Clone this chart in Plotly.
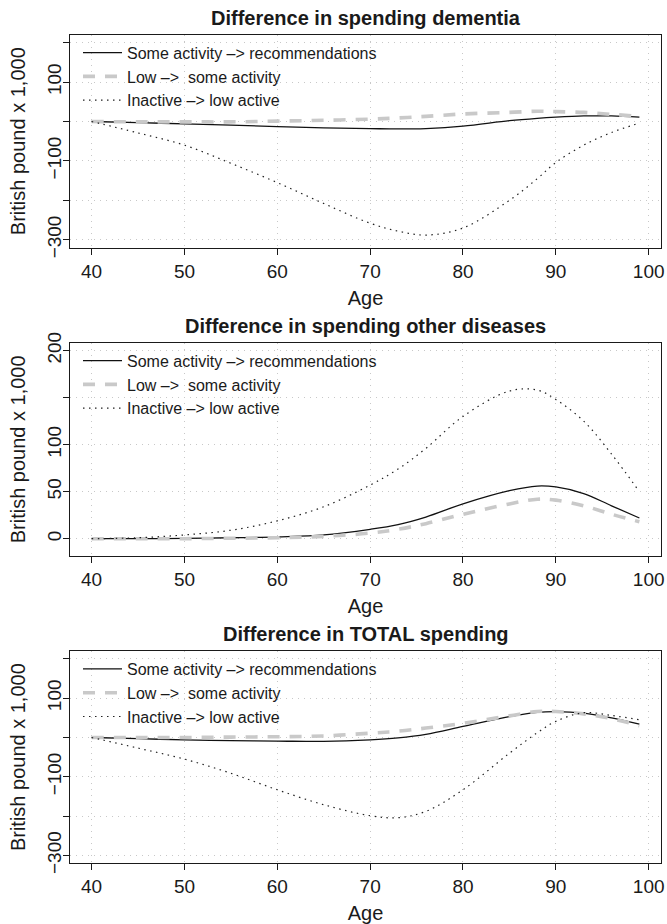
import plotly.graph_objects as go

# ---------------- data ----------------
ages = [40, 45, 50, 55, 60, 65, 70, 73, 76, 80, 85, 88, 90, 93, 96, 99]

series_names = [
    "Some activity \u2013> recommendations",
    "Low \u2013>\u00a0 some activity",
    "Inactive \u2013> low active",
]

panel_titles = [
    "Difference in spending dementia",
    "Difference in spending other diseases",
    "Difference in TOTAL spending",
]

dementia_some_to_rec = [0, -3, -6, -9, -13, -16, -18, -19, -18, -12, 2, 8, 11, 14, 14, 11]
dementia_low_to_some = [0, -1, -1, -1, 1, 3, 6, 9, 13, 19, 23, 26, 25, 23, 18, 13]
dementia_inactive_to_low = [0, -29, -60, -106, -155, -208, -258, -278, -288, -270, -200, -145, -104, -60, -28, -4]

other_some_to_rec = [0, 0, 0.3, 1, 2, 4, 10, 15, 23, 37, 51, 56, 55, 48, 35, 22]
other_low_to_some = [0, 0, 0, 0.5, 1, 2.5, 6, 10, 16, 26, 37, 42, 41, 35, 26, 18]
other_inactive_to_low = [0, 1, 4, 9, 19, 34, 57, 74, 96, 130, 157, 158, 148, 125, 90, 50]

total_some_to_rec = [0, -3, -6, -8, -9, -10, -6, -1, 8, 28, 53, 64, 66, 62, 50, 34]
total_low_to_some = [0, 0, 0, 1, 2, 4, 11, 16, 24, 36, 55, 66, 66, 60, 48, 30]
total_inactive_to_low = [0, -27, -55, -91, -133, -171, -199, -204, -188, -133, -40, 12, 41, 63, 56, 45]

x_tick_vals = [40, 50, 60, 70, 80, 90, 100]
x_tick_text = ["40", "50", "60", "70", "80", "90", "100"]

y_tick_vals_a = [-300, -200, -100, 0, 100, 200]
y_tick_text_a = ["\u2212300", "", "\u2212100", "", "100", ""]
y_tick_vals_b = [0, 50, 100, 150, 200]
y_tick_text_b = ["0", "50", "100", "", "200"]

panel_data = [
    (dementia_some_to_rec, dementia_low_to_some, dementia_inactive_to_low),
    (other_some_to_rec, other_low_to_some, other_inactive_to_low),
    (total_some_to_rec, total_low_to_some, total_inactive_to_low),
]
panel_yticks = [
    (y_tick_vals_a, y_tick_text_a),
    (y_tick_vals_b, y_tick_text_b),
    (y_tick_vals_a, y_tick_text_a),
]
panel_yranges = [[-320, 220], [-18.4, 208.4], [-320, 220]]

# ---------------- layout geometry (page pixels) ----------------
W, H = 667, 924
PLOT_L, PLOT_R = 69.7, 661.3
PANELS = [(34.7, 247.7), (342.7, 556.0), (651.0, 863.3)]
TITLE_Y = [18, 326, 634]
LEGEND_X = 78

FONT = "Liberation Sans, Arial, Helvetica, sans-serif"
INK = "#1a1a1a"

line_styles = [
    dict(color="#111111", width=1.3, dash="solid"),
    dict(color="#c9c9c9", width=3.6, dash="12px,10px"),
    dict(color="#222222", width=1.2, dash="1.5px,4.5px"),
]

fig = go.Figure()

layout = dict(
    width=W, height=H,
    margin=dict(l=0, r=0, t=0, b=0, autoexpand=False),
    paper_bgcolor="white", plot_bgcolor="white",
    font=dict(family=FONT, color=INK, size=19),
    showlegend=True,
    annotations=[],
)

for i in range(3):
    n = "" if i == 0 else str(i + 1)
    top, bot = PANELS[i]
    ydom = [1 - bot / H, 1 - top / H]
    xdom = [PLOT_L / W, PLOT_R / W]

    for j in range(3):
        fig.add_trace(go.Scatter(
            x=ages, y=panel_data[i][j],
            mode="lines", line=dict(shape="spline", smoothing=1.0, **line_styles[j]),
            name=series_names[j],
            xaxis="x" + n, yaxis="y" + n,
            legend="legend" + n,
            hoverinfo="x+y",
        ))

    axis_common = dict(
        automargin=False,
        showline=True, linecolor=INK, linewidth=1.3, mirror=True,
        ticks="outside", ticklen=6, tickwidth=1.2, tickcolor=INK,
        showgrid=True, gridcolor="#c8c8c8", gridwidth=1, griddash="1px,5px",
        zeroline=False, ticklabeloverflow="allow",
        tickfont=dict(family=FONT, size=19, color=INK),
    )
    layout["xaxis" + n] = dict(
        domain=xdom, anchor="y" + n, range=[37.64, 101.36],
        tickmode="array", tickvals=x_tick_vals, ticktext=x_tick_text,
        title=dict(text="Age", font=dict(family=FONT, size=20, color=INK), standoff=10),
        **axis_common,
    )
    layout["yaxis" + n] = dict(
        domain=ydom, anchor="x" + n, range=panel_yranges[i],
        tickmode="array", tickvals=panel_yticks[i][0], ticktext=panel_yticks[i][1],
        tickangle=-90, ticklabelstandoff=-6,
        title=dict(text="British pound x 1,000", font=dict(family=FONT, size=20, color=INK), standoff=12),
        **axis_common,
    )
    layout["legend" + n] = dict(
        x=LEGEND_X / W, y=ydom[1] - 1 / H, xanchor="left", yanchor="top",
        xref="paper", yref="paper",
        bgcolor="rgba(0,0,0,0)", borderwidth=0,
        font=dict(family=FONT, size=16, color=INK),
        itemwidth=39, traceorder="normal",
    )
    layout["annotations"].append(dict(
        text="<b>" + panel_titles[i] + "</b>",
        x=(PLOT_L + PLOT_R) / 2 / W, y=1 - TITLE_Y[i] / H,
        xref="paper", yref="paper", xanchor="center", yanchor="middle",
        showarrow=False, font=dict(family=FONT, size=20, color=INK),
    ))

fig.update_layout(**layout)
# let the figure fill the window exactly (remove the default page margin)
fig.write_html(
    "out.html",
    config={"displayModeBar": False},
    post_script="document.body.style.margin='0';",
)
